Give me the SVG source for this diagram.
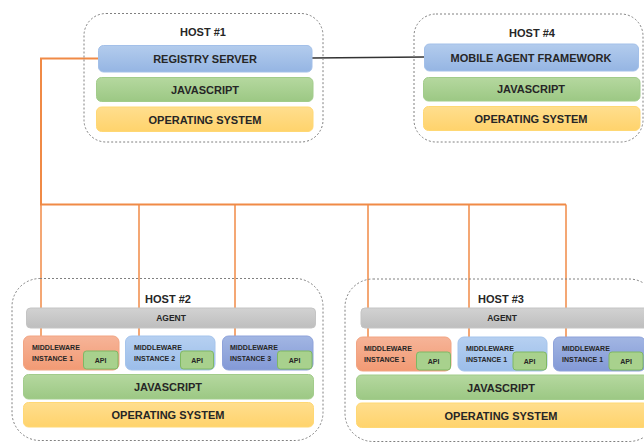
<svg xmlns="http://www.w3.org/2000/svg" width="644" height="443" viewBox="0 0 644 443">
<defs>
<linearGradient id="gBlue" x1="0" y1="0" x2="0" y2="1"><stop offset="0" stop-color="#b3cced"/><stop offset="1" stop-color="#95b5e3"/></linearGradient>
<linearGradient id="gGreen" x1="0" y1="0" x2="0" y2="1"><stop offset="0" stop-color="#b5d89f"/><stop offset="1" stop-color="#9cc884"/></linearGradient>
<linearGradient id="gYellow" x1="0" y1="0" x2="0" y2="1"><stop offset="0" stop-color="#ffde8e"/><stop offset="1" stop-color="#ffd36c"/></linearGradient>
<linearGradient id="gGray" x1="0" y1="0" x2="0" y2="1"><stop offset="0" stop-color="#d2d2d2"/><stop offset="1" stop-color="#bebebe"/></linearGradient>
<linearGradient id="gSalmon" x1="0" y1="0" x2="0" y2="1"><stop offset="0" stop-color="#f6b498"/><stop offset="1" stop-color="#f29a74"/></linearGradient>
<linearGradient id="gLBlue" x1="0" y1="0" x2="0" y2="1"><stop offset="0" stop-color="#b6d0f1"/><stop offset="1" stop-color="#9bbde9"/></linearGradient>
<linearGradient id="gDBlue" x1="0" y1="0" x2="0" y2="1"><stop offset="0" stop-color="#a2b6e3"/><stop offset="1" stop-color="#8399d6"/></linearGradient>
</defs>
<style>
.host{fill:none;stroke:#808080;stroke-width:1;stroke-dasharray:2,2}
.blue{fill:url(#gBlue);stroke:#a3c0e9;stroke-width:1}
.green{fill:url(#gGreen);stroke:#a2cc8b;stroke-width:1}
.yellow{fill:url(#gYellow);stroke:#ffd874;stroke-width:1}
.gray{fill:url(#gGray);stroke:#c4c4c4;stroke-width:1}
.salmon{fill:url(#gSalmon);stroke:#f2a482;stroke-width:1}
.lblue{fill:url(#gLBlue);stroke:#a5c4ec;stroke-width:1}
.dblue{fill:url(#gDBlue);stroke:#8ea2da;stroke-width:1}
.api{fill:#a8d18d;stroke:#7fb864;stroke-width:1}
text{font-family:"Liberation Sans",Arial,sans-serif;font-weight:bold;fill:#262626}
.t{font-size:11px;text-anchor:middle}
.ts{font-size:8.5px;text-anchor:middle}
.tm{font-size:7px}
.ta{font-size:7px;text-anchor:middle}
.or{fill:none;stroke:#f08a46;stroke-width:1.5}
.orT{fill:none;stroke:#f08a46;stroke-width:2}
.bk{fill:none;stroke:#333;stroke-width:1.5}
</style>

<g id="connectors">
<polyline class="orT" points="98,58.5 41,58.5 41,204.5 566,204.5"/>
<line class="or" x1="41" y1="204.5" x2="41" y2="336"/>
<line class="or" x1="139" y1="204.5" x2="139" y2="336"/>
<line class="or" x1="235" y1="204.5" x2="235" y2="336"/>
<line class="or" x1="368" y1="204.5" x2="368" y2="337"/>
<line class="or" x1="469" y1="204.5" x2="469" y2="337"/>
<line class="or" x1="566" y1="204.5" x2="566" y2="337"/>
<line class="bk" x1="312" y1="58" x2="424" y2="57"/>
</g>

<g id="host1">
<rect class="host" x="84" y="13.5" width="239" height="128.5" rx="22"/>
<text class="t" x="203" y="36">HOST #1</text>
<rect class="blue" x="98.5" y="45.5" width="213.5" height="26.5" rx="5"/>
<text class="t" x="205" y="62.5">REGISTRY SERVER</text>
<rect class="green" x="96.5" y="77.5" width="216.5" height="24" rx="5"/>
<text class="t" x="205" y="93.5">JAVASCRIPT</text>
<rect class="yellow" x="96.5" y="107" width="216.5" height="24.5" rx="5"/>
<text class="t" x="205" y="123.5">OPERATING SYSTEM</text>
</g>

<g id="host4">
<rect class="host" x="414" y="14" width="229" height="128" rx="22"/>
<text class="t" x="532" y="37">HOST #4</text>
<rect class="blue" x="424.5" y="44" width="214" height="27" rx="5"/>
<text class="t" x="531" y="61.5">MOBILE AGENT FRAMEWORK</text>
<rect class="green" x="423.5" y="77.5" width="216.5" height="23.5" rx="5"/>
<text class="t" x="531" y="93">JAVASCRIPT</text>
<rect class="yellow" x="423.5" y="106.5" width="216.5" height="24" rx="5"/>
<text class="t" x="531" y="122.5">OPERATING SYSTEM</text>
</g>

<g id="host2">
<rect class="host" x="12" y="278.5" width="311" height="162" rx="28"/>
<text class="t" x="168" y="303">HOST #2</text>
<rect class="gray" x="26.5" y="308" width="289" height="20" rx="4"/>
<text class="ts" x="171" y="321">AGENT</text>
<g id="h2mw1">
<rect class="salmon" x="23.5" y="336" width="95.5" height="34" rx="6"/>
<text class="tm" x="32" y="350">MIDDLEWARE</text>
<text class="tm" x="32" y="361">INSTANCE 1</text>
<rect class="api" x="83.5" y="351" width="34.5" height="18" rx="3"/>
<text class="ta" x="100.5" y="363">API</text>
</g>
<g id="h2mw2">
<rect class="lblue" x="125.5" y="336" width="89.5" height="34" rx="6"/>
<text class="tm" x="134" y="350">MIDDLEWARE</text>
<text class="tm" x="134" y="361">INSTANCE 2</text>
<rect class="api" x="180.5" y="351" width="33" height="18" rx="3"/>
<text class="ta" x="197" y="363">API</text>
</g>
<g id="h2mw3">
<rect class="dblue" x="222.5" y="336" width="90.5" height="34" rx="6"/>
<text class="tm" x="230" y="350">MIDDLEWARE</text>
<text class="tm" x="230" y="361">INSTANCE 3</text>
<rect class="api" x="277.5" y="351" width="34.5" height="18" rx="3"/>
<text class="ta" x="294.5" y="363">API</text>
</g>
<rect class="green" x="23.5" y="374.5" width="290" height="24.5" rx="5"/>
<text class="t" x="168" y="391">JAVASCRIPT</text>
<rect class="yellow" x="23.5" y="402.5" width="290" height="24.5" rx="5"/>
<text class="t" x="168" y="419">OPERATING SYSTEM</text>
</g>

<g id="host3">
<rect class="host" x="345" y="279" width="312" height="162.5" rx="28"/>
<text class="t" x="501" y="303">HOST #3</text>
<rect class="gray" x="361" y="308" width="290" height="20" rx="4"/>
<text class="ts" x="502" y="321">AGENT</text>
<g id="h3mw1">
<rect class="salmon" x="356.5" y="337" width="94.5" height="34" rx="6"/>
<text class="tm" x="364" y="351">MIDDLEWARE</text>
<text class="tm" x="364" y="362">INSTANCE 1</text>
<rect class="api" x="416.5" y="352" width="34" height="18" rx="3"/>
<text class="ta" x="433.5" y="364">API</text>
</g>
<g id="h3mw2">
<rect class="lblue" x="458" y="337" width="89" height="34" rx="6"/>
<text class="tm" x="466" y="351">MIDDLEWARE</text>
<text class="tm" x="466" y="362">INSTANCE 1</text>
<rect class="api" x="513" y="352" width="33.5" height="18" rx="3"/>
<text class="ta" x="529.5" y="364">API</text>
</g>
<g id="h3mw3">
<rect class="dblue" x="553.5" y="337" width="92" height="34" rx="6"/>
<text class="tm" x="562" y="351">MIDDLEWARE</text>
<text class="tm" x="562" y="362">INSTANCE 1</text>
<rect class="api" x="609" y="352" width="34" height="18" rx="3"/>
<text class="ta" x="626" y="364">API</text>
</g>
<rect class="green" x="356.5" y="375" width="292" height="24.5" rx="5"/>
<text class="t" x="501" y="391.5">JAVASCRIPT</text>
<rect class="yellow" x="356.5" y="403" width="292" height="24.5" rx="5"/>
<text class="t" x="501" y="419.5">OPERATING SYSTEM</text>
</g>
</svg>
